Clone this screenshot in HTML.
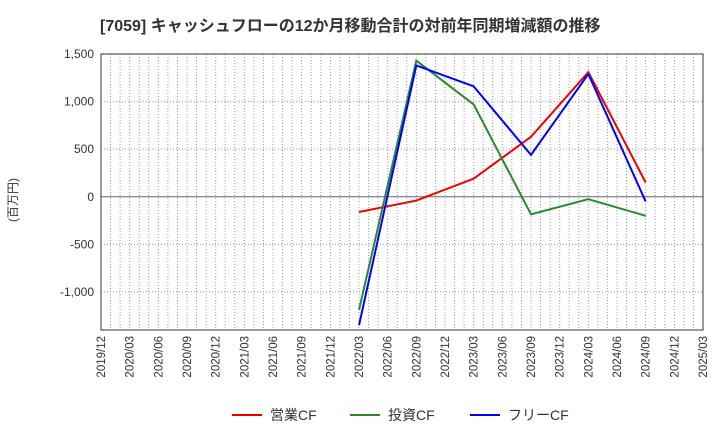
<!DOCTYPE html>
<html><head><meta charset="utf-8"><style>
body{margin:0;background:#fff;font-family:"Liberation Sans","Noto Sans CJK JP",sans-serif}
</style></head><body>
<svg id="c" width="720" height="440" xmlns="http://www.w3.org/2000/svg">
<text x="100" y="31" font-size="16" font-weight="bold" fill="#333">[7059]  キャッシュフローの12か月移動合計の対前年同期増減額の推移</text>
<text transform="translate(17,200) rotate(-90)" font-size="12" fill="#333" text-anchor="middle">(百万円)</text>
<g id="grid"></g><g id="axes"></g><g id="series"></g>
<g>
<line x1="232" y1="415" x2="262" y2="415" stroke="#e00" stroke-width="2"/>
<text x="270" y="420" font-size="14" fill="#333">営業CF</text>
<line x1="350" y1="415" x2="380" y2="415" stroke="#2a8a2a" stroke-width="2"/>
<text x="388" y="420" font-size="14" fill="#333">投資CF</text>
<line x1="470" y1="415" x2="500" y2="415" stroke="#00f" stroke-width="2"/>
<text x="508" y="420" font-size="14" fill="#333">フリーCF</text>
</g>
</svg>
<script>
const xLabels=["2019/12","2020/03","2020/06","2020/09","2020/12","2021/03","2021/06","2021/09","2021/12","2022/03","2022/06","2022/09","2022/12","2023/03","2023/06","2023/09","2023/12","2024/03","2024/06","2024/09","2024/12","2025/03"];
const yTicks=[1500,1000,500,0,-500,-1000];
const pointIdx=[9,11,13,15,17,19];
const opCF=[-160,-40,190,630,1310,150];
const invCF=[-1190,1430,970,-185,-25,-200];
const freeCF=[-1350,1380,1160,440,1290,-50];
const L=101,R=703,T=54,B=330,yMax=1500,yMin=-1400;
const sx=i=>L+(R-L)*i/(xLabels.length-1);
const sy=v=>T+(yMax-v)/(yMax-yMin)*(B-T);
const NS="http://www.w3.org/2000/svg";
function mk(t,a,p){const e=document.createElementNS(NS,t);for(const k in a)e.setAttribute(k,a[k]);p.appendChild(e);return e;}
const g=document.getElementById('grid'),ax=document.getElementById('axes'),s=document.getElementById('series');
for(let m=1;m<(xLabels.length-1)*3;m++){const x=L+(R-L)*m/((xLabels.length-1)*3);
const l=mk('line',{x1:x,x2:x,y1:T,y2:B,stroke:'#999','stroke-dasharray':'1,2','stroke-width':1},g);
}
yTicks.forEach(v=>{const y=sy(v);
const l=mk('line',{x1:L,x2:R,y1:y,y2:y,stroke:v===0?'#666':'#999','stroke-dasharray':v===0?'':'1,2'},g);

const t=mk('text',{x:L-7,y:y+4,'text-anchor':'end','font-size':12,fill:'#333'},ax);t.textContent=v.toLocaleString('en-US');
});
const r=mk('rect',{x:L,y:T,width:R-L,height:B-T,fill:'none',stroke:'#333'},ax);

xLabels.forEach((lb,i)=>{const x=sx(i);
const t=mk('text',{transform:`translate(${x+4},${B+6}) rotate(-90)`,'text-anchor':'end','font-size':11.5,fill:'#333'},ax);t.textContent=lb;
});
[[opCF,'#e00','operating-cf-line'],[invCF,'#2a8a2a','investing-cf-line'],[freeCF,'#00f','free-cf-line']].forEach(([d,c,n])=>{
const p=mk('polyline',{points:d.map((v,i)=>sx(pointIdx[i])+','+sy(v)).join(' '),fill:'none',stroke:c,'stroke-width':2},s);
});
</script>
</body></html>
